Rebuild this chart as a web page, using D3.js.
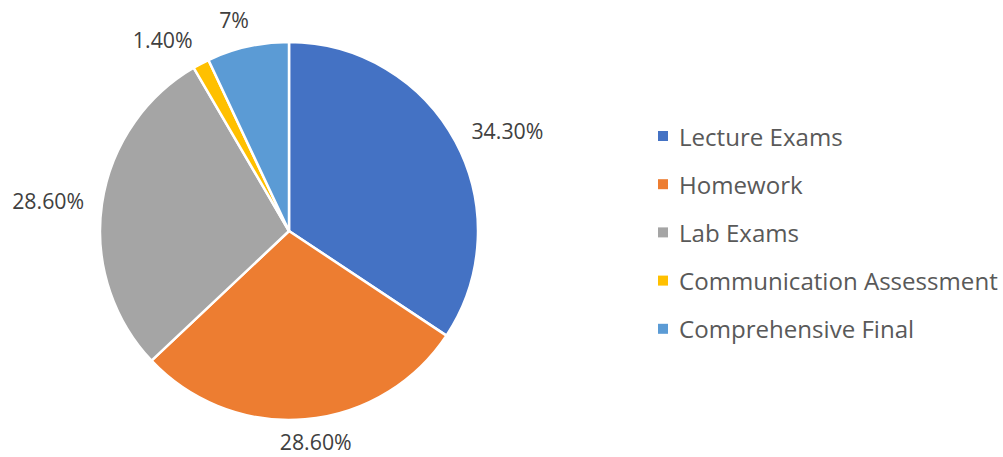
<!DOCTYPE html>
<html>
<head>
<meta charset="utf-8">
<script src="https://cdn.jsdelivr.net/npm/d3@7"></script>
<style>
  body { margin: 0; background: #fff; }
  svg { font-family: "Open Sans", "Noto Sans", sans-serif; }
</style>
</head>
<body>
<svg id="chart"></svg>
<script>
const categories = ["Lecture Exams", "Homework", "Lab Exams", "Communication Assessment", "Comprehensive Final"];
const values = [34.3, 28.6, 28.6, 1.4, 7];
const valueLabels = ["34.30%", "28.60%", "28.60%", "1.40%", "7%"];
const colors = ["#4472C4", "#ED7D31", "#A5A5A5", "#FFC000", "#5B9BD5"];

const width = 1003;
const height = 457;

const cx = 289, cy = 231, radius = 189;

const data = categories.map((c, i) => ({ category: c, value: values[i], label: valueLabels[i], color: colors[i] }));

const svg = d3.select("#chart")
  .attr("width", width)
  .attr("height", height);

const g = svg.append("g")
  .attr("transform", `translate(${cx}, ${cy})`);

const pie = d3.pie()
  .value(d => d.value)
  .sort(null);

const arc = d3.arc()
  .innerRadius(0)
  .outerRadius(radius);

const arcs = pie(data);

//slices
g.selectAll(".slice")
  .data(arcs)
  .enter()
  .append("path")
  .attr("class", "slice")
  .attr("d", arc)
  .attr("fill", d => d.data.color)
  .attr("stroke", "#fff")
  .attr("stroke-width", 2.5)
  .attr("stroke-linejoin", "round");

//fit a font size to a target text width
function fitSize(sample, targetWidth) {
  const t = svg.append("text").style("font-size", "20px").text(sample);
  const w = t.node().getComputedTextLength();
  t.remove();
  return 20 * targetWidth / w;
}

const labelSize = fitSize("34.30%", 72);
const legendSize = fitSize("Communication Assessment", 319);

//value labels, outside end
const labelR = radius + 18;
g.selectAll(".val")
  .data(arcs)
  .enter()
  .append("text")
  .attr("class", "val")
  .style("font-size", labelSize + "px")
  .attr("fill", "#404040")
  .attr("text-anchor", "middle")
  .attr("dominant-baseline", "central")
  .text(d => d.data.label)
  .each(function (d) {
    const a = (d.startAngle + d.endAngle) / 2;
    const s = Math.sin(a), c = -Math.cos(a);
    const w = this.getComputedTextLength();
    const h = labelSize * 0.85;
    const x = labelR * s + (w / 2) * Math.sign(s) * Math.min(1, Math.abs(s) * 3);
    let y = labelR * c + (h / 2) * c * Math.abs(c) - 1;
    // keep text box inside the svg
    y = Math.min(y, height - cy - labelSize * 0.72);
    d3.select(this).attr("x", x).attr("y", y);
  });

//legend
const legend = svg.append("g")
  .attr("transform", "translate(658, 136)");

const rows = legend.selectAll(".row")
  .data(data)
  .enter()
  .append("g")
  .attr("class", "row")
  .attr("transform", (d, i) => `translate(0, ${i * 48.2})`);

rows.append("rect")
  .attr("x", 0)
  .attr("y", -5)
  .attr("width", 10)
  .attr("height", 10)
  .attr("fill", d => d.color);

rows.append("text")
  .attr("x", 21)
  .attr("y", 0)
  .attr("dominant-baseline", "central")
  .style("font-size", legendSize + "px")
  .attr("fill", "#595959")
  .text(d => d.category);
</script>
</body>
</html>
